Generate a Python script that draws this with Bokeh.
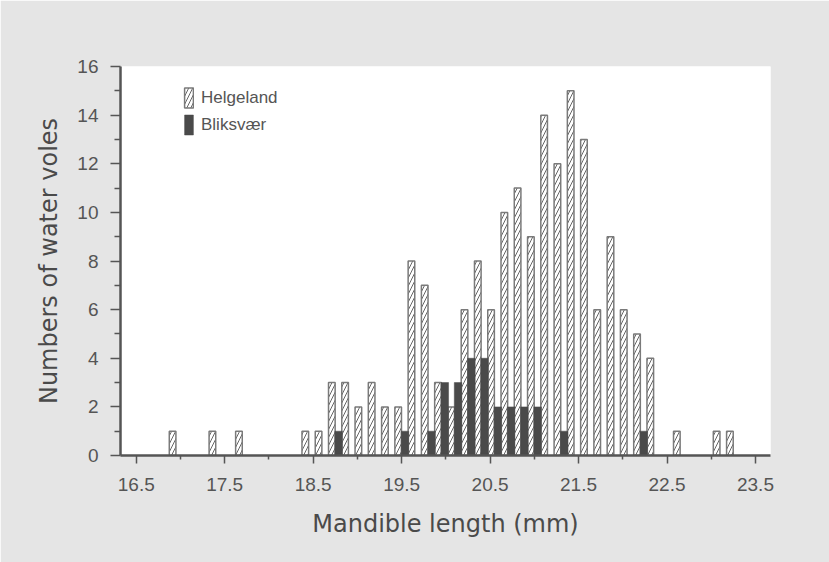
from bokeh.plotting import figure
from bokeh.models import Range1d, FixedTicker, ColumnDataSource, Legend, LegendItem
from bokeh.transform import dodge
from bokeh.embed import file_html
from bokeh.resources import INLINE

# Bin midpoints (mm), counts
bins = [16.95, 17.10, 17.25, 17.40, 17.55, 17.70, 17.85, 18.00, 18.15, 18.30,
        18.45, 18.60, 18.75, 18.90, 19.05, 19.20, 19.35, 19.50, 19.65, 19.80,
        19.95, 20.10, 20.25, 20.40, 20.55, 20.70, 20.85, 21.00, 21.15, 21.30,
        21.45, 21.60, 21.75, 21.90, 22.05, 22.20, 22.35, 22.50, 22.65, 22.80,
        22.95, 23.10, 23.25]
helgeland = [1, 0, 0, 1, 0, 1, 0, 0, 0, 0,
             1, 1, 3, 3, 2, 3, 2, 2, 8, 7,
             3, 2, 6, 8, 6, 10, 11, 9, 14, 12,
             15, 13, 6, 9, 6, 5, 4, 0, 1, 0,
             0, 1, 1]
bliksvaer = [0, 0, 0, 0, 0, 0, 0, 0, 0, 0,
             0, 0, 1, 0, 0, 0, 0, 1, 0, 1,
             3, 3, 4, 4, 2, 2, 2, 2, 0, 1,
             0, 0, 0, 0, 0, 1, 0, 0, 0, 0,
             0, 0, 0]
x_ticks = [16.5, 17.5, 18.5, 19.5, 20.5, 21.5, 22.5, 23.5]
x_minor = [17.0, 18.0, 19.0, 20.0, 21.0, 22.0, 23.0]
y_ticks = [0, 2, 4, 6, 8, 10, 12, 14, 16]
y_minor = [1, 3, 5, 7, 9, 11, 13, 15]

src_h = ColumnDataSource(dict(
    bin=[b for b, v in zip(bins, helgeland) if v > 0],
    count=[v for v in helgeland if v > 0]))
src_b = ColumnDataSource(dict(
    bin=[b for b, v in zip(bins, bliksvaer) if v > 0],
    count=[v for v in bliksvaer if v > 0]))

p = figure(width=829, height=562, output_backend="svg", toolbar_location=None,
           x_range=Range1d(16.322, 23.67), y_range=Range1d(0, 16),
           min_border_left=120, min_border_right=59, min_border_top=66,
           min_border_bottom=107)
p.border_fill_color = "#e5e5e5"
p.background_fill_color = "white"
p.outline_line_color = None
p.xgrid.visible = False
p.ygrid.visible = False

rh = p.vbar(x=dodge("bin", -0.039, range=p.x_range), top="count", width=0.075,
            bottom=0, source=src_h, fill_color="white", line_color="#7a7a7a",
            line_width=1.5, hatch_pattern="/", hatch_color="#666666",
            hatch_scale=8, hatch_weight=1)
rb = p.vbar(x=dodge("bin", 0.038, range=p.x_range), top="count", width=0.085,
            bottom=0, source=src_b, fill_color="#4a4a4a", line_color="#4a4a4a",
            line_width=0.5)

axis_col = "#555555"
for ax in (p.xaxis[0], p.yaxis[0]):
    ax.axis_line_color = axis_col
    ax.axis_line_width = 2.5
    ax.major_tick_line_color = axis_col
    ax.minor_tick_line_color = axis_col
    ax.major_tick_line_width = 1.5
    ax.minor_tick_line_width = 1.5
    ax.major_tick_in = 0
    ax.minor_tick_in = 0
    ax.major_label_text_font = "Liberation Sans"
    ax.major_label_text_font_size = "19px"
    ax.major_label_text_color = "#555555"
    ax.axis_label_text_font = "DejaVu Sans"
    ax.axis_label_text_font_size = "24px"
    ax.axis_label_text_font_style = "normal"
    ax.axis_label_text_color = "#4a4a4a"

p.xaxis.ticker = FixedTicker(ticks=x_ticks, minor_ticks=x_minor)
p.yaxis.ticker = FixedTicker(ticks=y_ticks, minor_ticks=y_minor)
p.xaxis.major_label_overrides = {t: f"{t:.1f}" for t in x_ticks}
p.xaxis.major_tick_out = 8
p.xaxis.minor_tick_out = 4
p.yaxis.major_tick_out = 10
p.yaxis.minor_tick_out = 6
p.xaxis.major_label_standoff = 14
p.yaxis.major_label_standoff = 12
p.xaxis.axis_label = "Mandible length (mm)"
p.yaxis.axis_label = "Numbers of water voles"
p.xaxis.axis_label_standoff = 16
p.yaxis.axis_label_standoff = 11

legend = Legend(items=[LegendItem(label="Helgeland", renderers=[rh]),
                       LegendItem(label="Bliksvær", renderers=[rb])],
                location=(63, 318), orientation="vertical",
                glyph_width=11, glyph_height=25, spacing=2, padding=0, margin=0,
                label_standoff=7, label_text_font="Liberation Sans",
                label_text_font_size="17px", label_text_color="#555555",
                background_fill_alpha=0, border_line_color=None)
p.add_layout(legend)

open("out.html", "w").write(file_html(p, INLINE))
